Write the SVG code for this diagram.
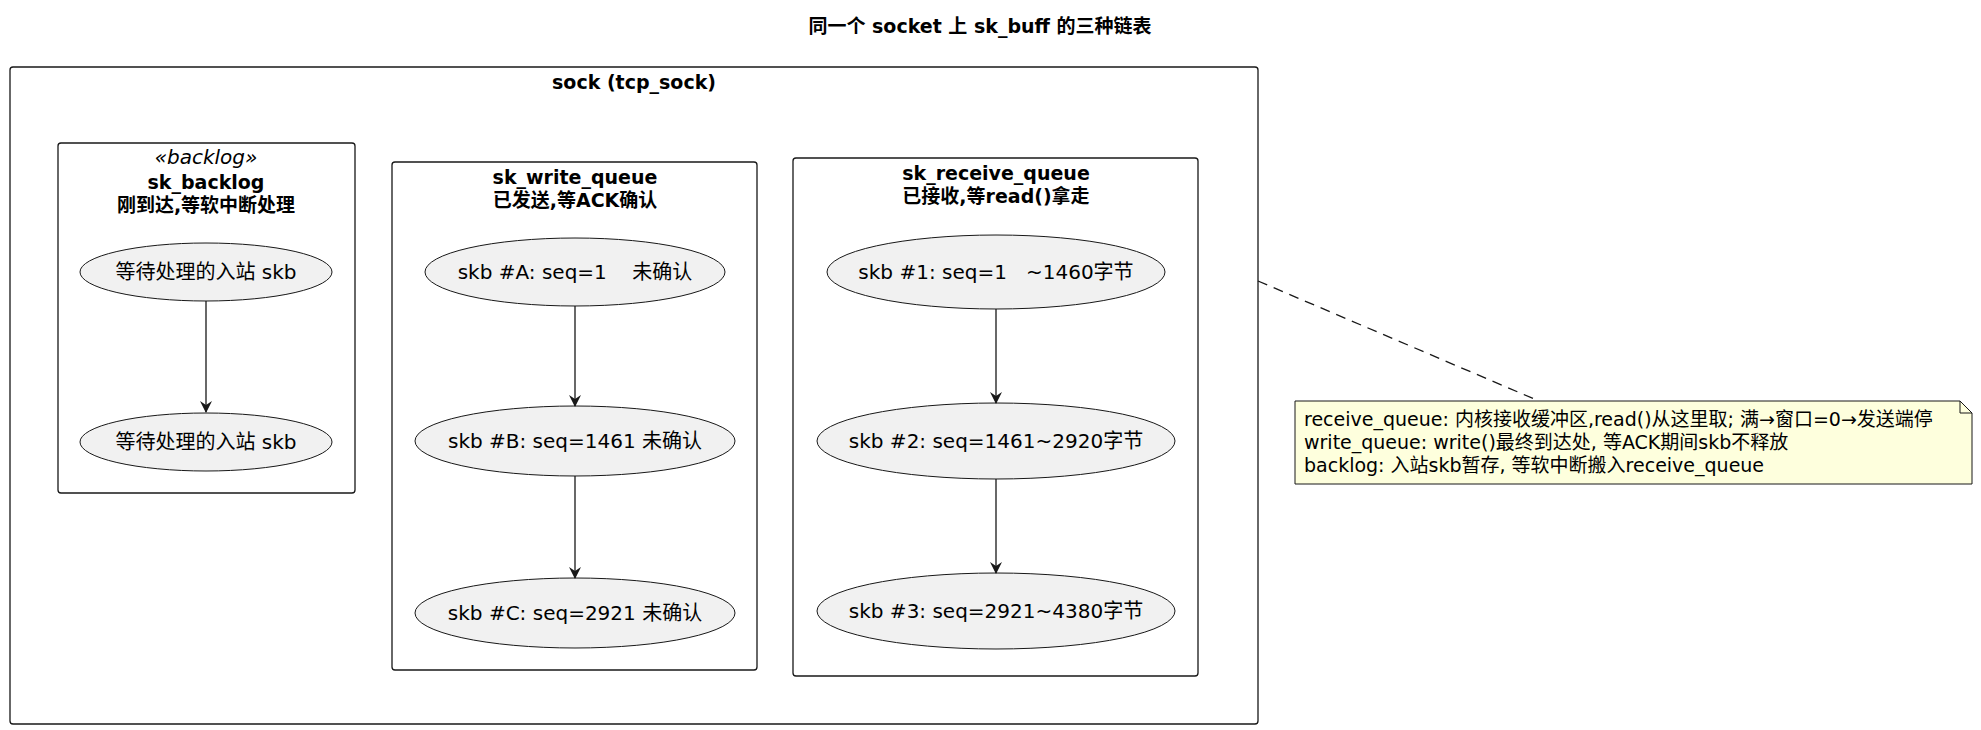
<svg xmlns="http://www.w3.org/2000/svg" width="1981" height="730" viewBox="0 0 1981 730">
<defs>
<marker id="arr" viewBox="0 0 12 12" refX="11" refY="6" markerWidth="12" markerHeight="12" markerUnits="userSpaceOnUse" orient="auto">
<path d="M0,0 L12,6 L0,12 L4,6 Z" fill="#181818"/>
</marker>
<style>
text{font-family:"DejaVu Sans","Noto Sans CJK SC",sans-serif;fill:#000}
.t{font-size:19px;font-weight:bold;text-anchor:middle}
.n{font-size:20px;text-anchor:middle}
.box{fill:none;stroke:#181818;stroke-width:1.3}
.el{fill:#f1f1f1;stroke:#181818;stroke-width:1}
.ln{stroke:#181818;stroke-width:1.3;fill:none}
.note{font-size:19px}
</style>
</defs>
<rect width="1981" height="730" fill="#fff"/>
<text class="t" x="980" y="33">同一个 socket 上 sk_buff 的三种链表</text>
<g id="sock"><rect class="box" x="10" y="67" width="1248" height="657" rx="3"/>
<text class="t" x="634" y="89">sock (tcp_sock)</text></g>
<g id="sk_backlog"><rect class="box" x="58" y="143" width="297" height="350" rx="3"/>
<text class="n" x="206" y="164" font-style="italic" font-size="19">«backlog»</text>
<text class="t" x="206" y="189">sk_backlog</text>
<text class="t" x="206" y="212">刚到达,等软中断处理</text></g>
<g id="bl1"><ellipse class="el" cx="206" cy="272" rx="126" ry="29"/><text class="n" x="206" y="279">等待处理的入站 skb</text></g>
<g id="bl2"><ellipse class="el" cx="206" cy="442" rx="126" ry="29"/><text class="n" x="206" y="449">等待处理的入站 skb</text></g>
<g id="sk_write_queue"><rect class="box" x="392" y="162" width="365" height="508" rx="3"/>
<text class="t" x="575" y="184">sk_write_queue</text>
<text class="t" x="575" y="207">已发送,等ACK确认</text></g>
<g id="wA"><ellipse class="el" cx="575" cy="272" rx="150" ry="34"/><text class="n" x="575" y="279" xml:space="preserve">skb #A: seq=1    未确认</text></g>
<g id="wB"><ellipse class="el" cx="575" cy="441" rx="160" ry="35"/><text class="n" x="575" y="448">skb #B: seq=1461 未确认</text></g>
<g id="wC"><ellipse class="el" cx="575" cy="613" rx="160" ry="35"/><text class="n" x="575" y="620">skb #C: seq=2921 未确认</text></g>
<g id="sk_receive_queue"><rect class="box" x="793" y="158" width="405" height="518" rx="3"/>
<text class="t" x="996" y="180">sk_receive_queue</text>
<text class="t" x="996" y="203">已接收,等read()拿走</text></g>
<g id="r1"><ellipse class="el" cx="996" cy="272" rx="169" ry="37"/><text class="n" x="996" y="279" xml:space="preserve">skb #1: seq=1   ~1460字节</text></g>
<g id="r2"><ellipse class="el" cx="996" cy="441" rx="179" ry="38"/><text class="n" x="996" y="448">skb #2: seq=1461~2920字节</text></g>
<g id="r3"><ellipse class="el" cx="996" cy="611" rx="179" ry="38"/><text class="n" x="996" y="618">skb #3: seq=2921~4380字节</text></g>
<g id="note"><path d="M1295,401 H1960 L1972,413 V484 H1295 Z" fill="#feffdd" stroke="#181818" stroke-width="1"/>
<path d="M1960,401 V413 H1972" fill="none" stroke="#181818" stroke-width="1"/>
<text class="note" x="1304" y="426">receive_queue: 内核接收缓冲区,read()从这里取; 满→窗口=0→发送端停</text>
<text class="note" x="1304" y="449">write_queue: write()最终到达处, 等ACK期间skb不释放</text>
<text class="note" x="1304" y="472">backlog: 入站skb暂存, 等软中断搬入receive_queue</text></g>
<g id="connectors">
<line class="ln" x1="206" y1="301" x2="206" y2="412" marker-end="url(#arr)"/>
<line class="ln" x1="575" y1="306" x2="575" y2="406" marker-end="url(#arr)"/>
<line class="ln" x1="575" y1="476" x2="575" y2="578" marker-end="url(#arr)"/>
<line class="ln" x1="996" y1="309" x2="996" y2="403" marker-end="url(#arr)"/>
<line class="ln" x1="996" y1="479" x2="996" y2="573" marker-end="url(#arr)"/>
<line x1="1258" y1="281" x2="1539" y2="401" stroke="#181818" stroke-width="1.3" stroke-dasharray="10,7"/>
</g>
</svg>
